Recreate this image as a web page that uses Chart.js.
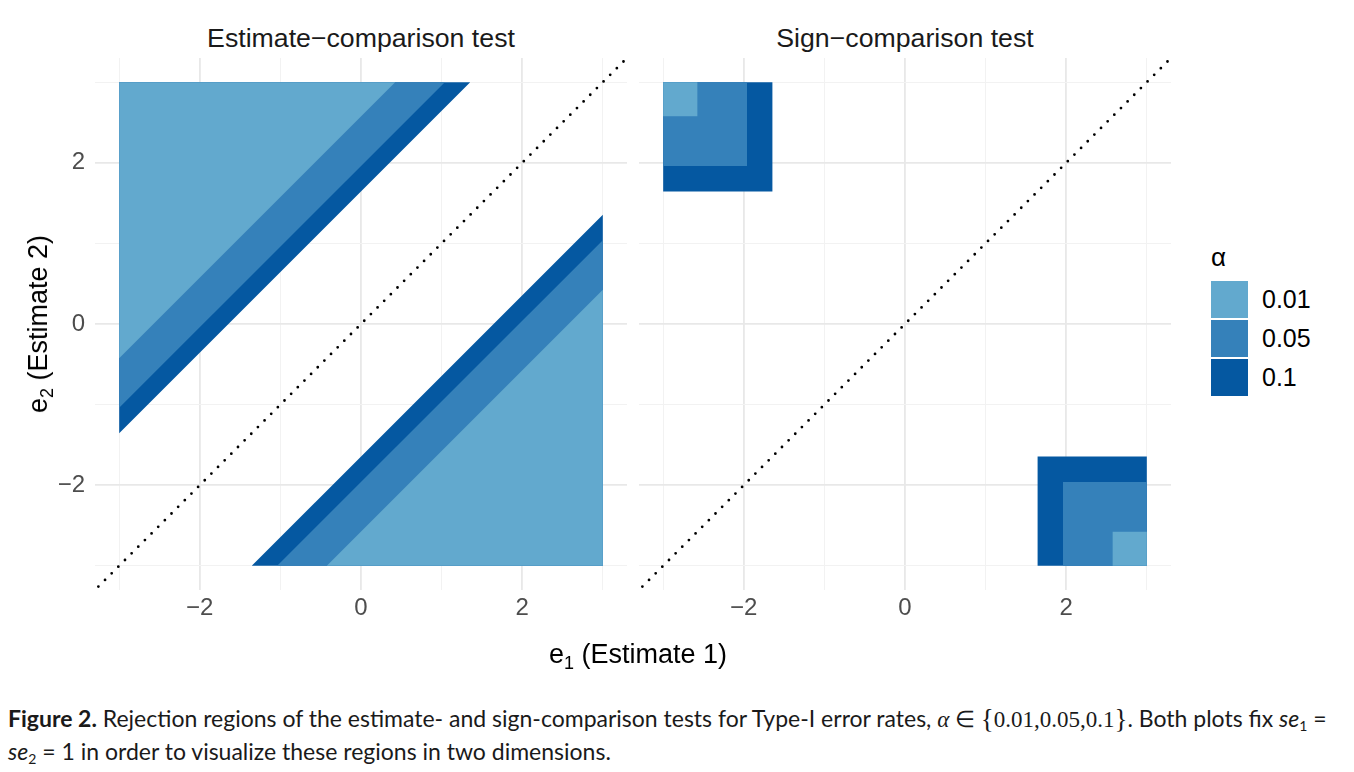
<!DOCTYPE html>
<html>
<head>
<meta charset="utf-8">
<script src="https://cdn.jsdelivr.net/npm/chart.js@4.4.1/dist/chart.umd.min.js"></script>
<style>
body { margin: 0; width: 1354px; height: 772px; background: #fff; position: relative; overflow: hidden;
       font-family: "Liberation Sans", Arial, sans-serif; }
.abs { position: absolute; }
.strip { top: 21px; width: 532px; text-align: center; font-size: 26.7px; color: #1a1a1a; line-height: 34px; }
.axtitle { font-size: 27px; color: #000; white-space: nowrap; line-height: 30px; }
.axtitle sub { font-size: 18px; vertical-align: -6px; line-height: 0; }
#legend .key { position: absolute; left: 1211px; width: 37px; height: 37px; }
#legend .lab { position: absolute; left: 1262px; font-size: 25px; line-height: 37px; color: #000; }
.caption { left: 8px; font-family: Lato, "Noto Sans", sans-serif; font-size: 23px; line-height: 28px; color: #1a1a1a; white-space: nowrap; }
.caption .m { font-family: "Liberation Serif", serif; }
.caption .br { font-size: 27px; vertical-align: -1px; line-height: 0; }
.caption sub { font-size: 14px; vertical-align: -4px; line-height: 0; }
</style>
</head>
<body>

<div class="abs strip" style="left:95px">Estimate−comparison test</div>
<div class="abs strip" style="left:639px">Sign−comparison test</div>

<canvas id="estimateChart" class="abs" style="left:0;top:58px" width="627" height="592"></canvas>
<canvas id="signChart" class="abs" style="left:639px;top:58px" width="532" height="592"></canvas>

<div class="abs axtitle" style="left:549px;top:639px">e<sub>1</sub> (Estimate 1)</div>
<div class="abs axtitle" style="left:38px;top:324px;transform:translate(-50%,-50%) rotate(-90deg)">e<sub>2</sub> (Estimate 2)</div>

<div id="legend"></div>

<div class="abs caption" style="top:704px"><b>Figure 2.</b> Rejection regions of the estimate- and sign-comparison tests for Type-I error rates, <span class="m"><i>α</i> ∈ <span class="br">{</span>0.01,0.05,0.1<span class="br">}</span></span>. Both plots fix <i>se</i><sub>1</sub> =</div>
<div class="abs caption" style="top:737px"><i>se</i><sub>2</sub> = 1 in order to visualize these regions in two dimensions.</div>

<script>
// ============================== DATA ==============================
const alphaLabels = ['0.01', '0.05', '0.1'];
const criticalValues = [2.576, 1.960, 1.645];   // edge of each rejection region
const regionLimit = 3;                           // regions are drawn out to +/-3
const axisTicks = [-3, -2, -1, 0, 1, 2, 3];
const labelTicks = [-2, 0, 2];
const diagonalEnds = [-4, 4];

const fillColors = ['#62a9ce', '#3581ba', '#0558a1'];

// ============================== LEGEND ==============================
function buildLegend() {
    const legend = document.getElementById('legend');
    let html = '<div class="abs" style="left:1211px;top:242px;font-size:26px;line-height:30px">α</div>';
    alphaLabels.forEach((lab, i) => {
        const top = 281 + i * 39;
        html += `<div class="key" style="top:${top}px;background:${fillColors[i]}"></div>`;
        html += `<div class="lab" style="top:${top}px">${lab}</div>`;
    });
    legend.innerHTML = html;
}

// ============================== REGIONS ==============================
function estimateRegions(c) {
    const L = regionLimit;
    return [
        [{ x: -L, y: -L + c }, { x: -L, y: L }, { x: L - c, y: L }],
        [{ x: -L + c, y: -L }, { x: L, y: -L }, { x: L, y: L - c }]
    ];
}

function signRegions(c) {
    const L = regionLimit;
    return [
        [{ x: -L, y: c }, { x: -L, y: L }, { x: -c, y: L }, { x: -c, y: c }],
        [{ x: c, y: -L }, { x: c, y: -c }, { x: L, y: -c }, { x: L, y: -L }]
    ];
}

function regionDatasets(makeRegions) {
    const sets = [];
    criticalValues.forEach((c, i) => {
        makeRegions(c).forEach(poly => {
            sets.push({
                data: poly,
                showLine: true,
                fill: 'shape',
                backgroundColor: fillColors[i],
                borderColor: fillColors[i],
                borderWidth: 0,
                pointRadius: 0,
                order: i
            });
        });
    });
    sets.push({
        data: diagonalEnds.map(v => ({ x: v, y: v })),
        showLine: true,
        fill: false,
        borderColor: '#000',
        borderWidth: 2.8,
        borderDash: [0, 9.4],
        borderCapStyle: 'round',
        pointRadius: 0,
        order: -1
    });
    return sets;
}

// ============================== CHARTS ==============================
function tickLabel(v) {
    if (!labelTicks.includes(v)) return '';
    return v < 0 ? '\u2212' + Math.abs(v) : String(v);
}

function gridOptions() {
    return {
        drawTicks: false,
        color: ctx => (ctx.tick && ctx.tick.value % 2 === 0) ? '#e8e8e8' : '#f2f2f2',
        lineWidth: ctx => (ctx.tick && ctx.tick.value % 2 === 0) ? 1.8 : 1
    };
}

function createPanel(id, makeRegions, showY) {
    const ctx = document.getElementById(id).getContext('2d');
    return new Chart(ctx, {
        type: 'scatter',
        data: { datasets: regionDatasets(makeRegions) },
        options: {
            responsive: false,
            animation: false,
            layout: { padding: 0 },
            plugins: { legend: { display: false }, tooltip: { enabled: false } },
            scales: {
                x: {
                    type: 'linear', min: -3.3, max: 3.3,
                    afterBuildTicks: s => { s.ticks = axisTicks.map(v => ({ value: v })); },
                    afterFit: s => { s.height = 60; s.paddingLeft = 0; s.paddingRight = 0; },
                    grid: gridOptions(),
                    border: { display: false },
                    ticks: { callback: tickLabel, autoSkip: false, maxRotation: 0, padding: 4,
                             color: '#4d4d4d', font: { family: 'Liberation Sans', size: 24 } }
                },
                y: {
                    type: 'linear', min: -3.3, max: 3.3,
                    afterBuildTicks: s => { s.ticks = axisTicks.map(v => ({ value: v })); },
                    afterFit: s => { s.width = showY ? 95 : 0; s.paddingTop = 0; s.paddingBottom = 0; },
                    grid: gridOptions(),
                    border: { display: false },
                    ticks: { display: showY, callback: tickLabel, autoSkip: false, padding: 10,
                             color: '#4d4d4d', font: { family: 'Liberation Sans', size: 24 } }
                }
            }
        }
    });
}

window.addEventListener('DOMContentLoaded', () => {
    buildLegend();
    createPanel('estimateChart', estimateRegions, true);
    createPanel('signChart', signRegions, false);
});
</script>
</body>
</html>
